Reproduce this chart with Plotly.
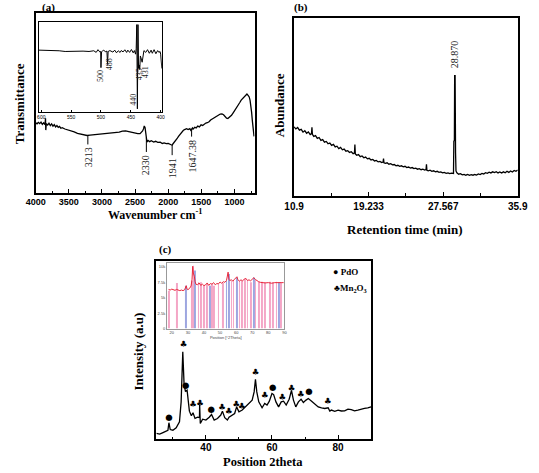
import numpy as np
import plotly.graph_objects as go

# ---------------- Panel (a): FTIR spectrum ----------------
wn_a = [4000, 3980, 3960, 3940, 3920, 3900, 3880, 3860, 3852, 3848, 3840, 3820, 3800, 3780, 3760,
        3740, 3720, 3700, 3680, 3660, 3640, 3620, 3600, 3560, 3516, 3470, 3419, 3370, 3322, 3270,
        3225, 3180, 3128, 3080, 3031, 2980, 2934, 2880, 2837, 2790, 2740, 2692, 2643, 2595, 2545,
        2498, 2460, 2425, 2400, 2387, 2372, 2362, 2350, 2340, 2329, 2322, 2315, 2304, 2280, 2256,
        2220, 2190, 2159, 2120, 2090, 2062, 2030, 2000, 1965, 1950, 1941, 1930, 1917, 1890, 1868,
        1845, 1820, 1795, 1771, 1745, 1723, 1700, 1674, 1660, 1647, 1635, 1626, 1600, 1578, 1555,
        1529, 1505, 1481, 1455, 1432, 1410, 1384, 1360, 1335, 1310, 1287, 1260, 1238, 1215, 1190,
        1165, 1142, 1120, 1100, 1080, 1060, 1045, 1020, 996, 970, 948, 920, 899, 875, 851,
        830, 812, 795, 778, 765, 754, 742, 730, 720, 712, 705]
T_a = [39.0, 38.5, 39.3, 38.6, 39.4, 38.2, 39.0, 38.0, 41.5, 35.0, 38.6, 37.8, 38.8, 37.5, 38.4,
       37.2, 38.0, 36.8, 37.5, 36.5, 37.0, 36.0, 36.3, 35.6, 35.2, 34.4, 34.0, 33.2, 32.8, 32.3,
       32.0, 32.2, 32.4, 32.3, 32.6, 32.8, 32.9, 33.1, 33.2, 33.6, 33.9, 34.4, 34.6, 34.2, 33.6,
       33.2, 33.0, 33.0, 33.8, 34.5, 35.8, 37.3, 36.5, 34.5, 30.5, 28.4, 29.0, 29.3, 28.6, 29.1,
       28.4, 28.8, 28.2, 28.3, 27.6, 27.9, 27.5, 27.6, 27.0, 26.8, 26.6, 27.3, 27.8, 29.0, 30.2,
       31.5, 32.8, 33.8, 34.9, 35.4, 35.8, 35.3, 35.8, 34.9, 35.4, 36.2, 35.5, 36.6, 36.2, 37.2,
       36.8, 37.9, 37.6, 38.6, 38.9, 39.1, 39.6, 40.6, 41.1, 41.5, 42.0, 42.8, 43.4, 43.9, 44.0,
       43.5, 42.4, 41.6, 41.4, 42.0, 42.8, 43.2, 44.6, 45.8, 47.2, 48.8, 50.3, 51.6, 52.6, 53.6,
       54.3, 55.0, 54.3, 53.4, 51.5, 49.0, 45.0, 40.0, 36.0, 32.5, 31.5]
ir_peaks = [3213, 2330, 1941, 1647.38]
ir_peak_labels = ["3213", "2330", "1941", "1647.38"]

# inset of (a)
wn_ins = [604, 590, 580, 579, 570, 560, 550, 540, 530, 520, 512, 508, 505, 502, 500.5, 500, 499, 496,
          492, 490, 489, 488, 485, 480, 477, 474, 471, 468, 466, 463, 460, 457, 455, 452, 449, 446,
          444, 442, 441, 440, 439, 438, 437, 436, 435, 434, 433, 431, 430, 428, 425, 422, 419, 416,
          414, 411, 408, 405, 403, 401, 400, 399, 398]
T_ins = [68.5, 68.5, 68.5, 67.8, 67.8, 67.0, 67.4, 67.0, 67.4, 67.0, 67.8, 66.0, 69.0, 66.5, 67.0, 49.0, 66.5, 68.5,
         66.7, 67.5, 52.5, 67.0, 68.0, 66.3, 68.5, 65.5, 67.8, 65.9, 68.1, 66.5, 68.9, 65.9, 68.5, 66.0, 69.2, 65.5,
         68.0, 64.0, 70.0, 97.0, 3.0, 97.0, 48.0, 52.0, 47.0, 62.0, 60.0, 55.0, 62.0, 68.0, 66.0, 69.0, 65.0, 68.5,
         65.0, 69.0, 64.5, 68.0, 66.0, 67.0, 64.0, 52.0, 48.0]
ins_peaks = [500, 488, 440, 435, 431]
ins_labels = ["500", "488", "440", "435", "431"]

# ---------------- Panel (b): GC chromatogram ----------------
t_b = [10.9, 11.1, 11.3, 11.5, 11.7, 11.9, 12.1, 12.3, 12.5, 12.7, 12.85, 12.9, 12.95, 13.1, 13.3,
       13.5, 13.7, 13.9, 14.1, 14.3, 14.5, 14.7, 14.9, 15.1, 15.3, 15.5, 15.7, 15.9, 16.1, 16.3,
       16.5, 16.7, 16.9, 17.1, 17.3, 17.5, 17.65, 17.7, 17.75, 17.9, 18.1, 18.3, 18.5, 18.7, 18.9,
       19.1, 19.3, 19.5, 19.7, 19.9, 20.1, 20.3, 20.5, 20.7, 20.85, 20.9, 20.95, 21.1, 21.3, 21.5,
       21.7, 21.9, 22.1, 22.3, 22.5, 22.7, 22.9, 23.1, 23.3, 23.5, 23.7, 23.9, 24.1, 24.3, 24.5,
       24.7, 24.9, 25.1, 25.3, 25.5, 25.65, 25.7, 25.75, 25.9, 26.1, 26.3, 26.5, 26.7, 26.9, 27.1,
       27.3, 27.5, 27.7, 27.9, 28.1, 28.3, 28.5, 28.65, 28.72, 28.76, 28.82, 28.85, 28.9, 28.95, 29.0,
       29.1, 29.3, 29.5, 29.7, 29.9, 30.1, 30.3, 30.5, 30.7, 30.9, 31.1, 31.3, 31.5, 31.7, 31.9,
       32.1, 32.3, 32.5, 32.7, 32.9, 33.1, 33.3, 33.5, 33.7, 33.9, 34.1, 34.3, 34.5, 34.7, 34.9,
       35.1, 35.3, 35.5, 35.7, 35.9]
A_b = [38.8, 37.6, 38.4, 36.9, 37.4, 35.8, 36.6, 35.2, 35.9, 34.4, 35.0, 38.5, 34.6, 33.4, 33.9,
       32.3, 32.8, 31.2, 31.6, 30.2, 30.6, 29.3, 29.7, 28.4, 28.9, 27.5, 27.9, 26.6, 27.2, 25.9,
       26.3, 25.1, 25.4, 24.4, 24.8, 23.7, 24.1, 28.9, 23.5, 22.8, 23.2, 22.0, 22.4, 21.4, 21.8,
       20.8, 21.1, 20.2, 20.5, 19.6, 19.9, 19.1, 19.4, 18.7, 19.0, 21.0, 18.6, 18.3, 18.6, 17.8,
       18.1, 17.4, 17.6, 16.9, 17.2, 16.6, 16.9, 16.3, 16.6, 15.9, 16.2, 15.6, 15.9, 15.3, 15.6,
       15.0, 15.3, 14.7, 15.0, 14.5, 14.8, 17.7, 14.4, 14.1, 14.4, 13.8, 14.1, 13.5, 13.8, 13.2,
       13.5, 12.9, 13.2, 12.7, 12.9, 12.5, 12.8, 12.4, 12.6, 30.8, 31.0, 67.5, 67.5, 24.3, 14.0,
       13.0, 12.2, 12.5, 11.8, 12.1, 11.6, 12.0, 11.5, 11.9, 11.6, 12.0, 11.7, 12.3, 12.0, 12.6,
       12.3, 13.0, 12.7, 13.3, 12.9, 13.5, 13.1, 13.6, 12.9, 13.4, 12.8, 13.5, 13.0, 13.8, 13.2,
       14.0, 13.4, 14.3, 13.8, 14.6]
gc_peak_label = "28.870"
gc_ticks = [10.9, 19.233, 27.567, 35.9]

# ---------------- Panel (c): XRD ----------------
theta_c = [25, 26, 27, 28, 28.5, 28.8, 29.2, 30, 31, 32, 32.5, 33.0, 33.4, 33.8, 34.3, 35, 35.6, 36.1,
           36.7, 37.5, 38.05, 38.1, 38.3, 39, 40, 41, 41.7, 42.5, 43.5, 44.5, 45, 45.7, 46.5, 47, 48,
           48.7, 49.3, 50, 51, 52, 53, 54, 54.6, 55.0, 55.4, 56, 57, 57.8, 58.5, 59.2, 60, 60.5, 61.2,
           62, 62.8, 63.5, 64.3, 65.2, 65.9, 66.5, 67.2, 68, 68.8, 69.5, 70.3, 71, 72, 73, 74, 75,
           76, 77, 77.5, 78, 79, 80, 81, 82, 83, 84, 85, 86, 87, 88, 89, 90]
I_c = [3.2, 2.8, 3.7, 4.4, 5.0, 9.2, 5.4, 5.0, 6.4, 9.7, 20.9, 49.0, 30.3, 26.9, 27.5, 15.7, 13.1, 14.8,
       11.6, 12.3, 12.0, 19.4, 8.8, 11.2, 10.7, 12.3, 13.8, 10.7, 11.6, 13.5, 15.7, 12.0, 10.7, 12.3, 13.5,
       14.4, 18.1, 15.3, 16.3, 18.1, 20.0, 21.9, 26.5, 33.6, 26.5, 20.9, 17.6, 20.0, 19.1, 21.3, 25.6, 25.0, 20.9,
       18.1, 20.9, 21.3, 19.1, 22.4, 27.3, 21.9, 18.1, 20.9, 22.4, 20.6, 21.9, 22.8, 21.3, 19.4, 18.1, 17.6,
       17.2, 17.6, 15.7, 16.3, 15.6, 16.3, 15.8, 15.9, 16.8, 16.6, 15.9, 16.3, 16.9, 17.2, 17.6, 18.1]
pdo_x = [28.8, 33.9, 41.6, 60.2, 71.2]
pdo_y = [12.1, 29.9, 16.6, 28.8, 26.5]
mn_x = [33.2, 36.1, 38.2, 44.9, 46.9, 49.2, 50.9, 55.0, 57.8, 63.1, 65.9, 68.7, 76.9]
mn_y = [52.7, 19.4, 19.8, 17.6, 15.3, 19.1, 17.9, 37.2, 24.3, 23.2, 28.0, 24.7, 20.9]

# inset of (c)
theta_ins = [18, 19, 20, 21, 22, 23, 24, 25, 26, 27, 28, 29, 29.5, 30, 31, 32, 32.6, 33, 33.4, 34, 34.5,
             35, 36, 37, 38, 39, 40, 41, 42, 43, 44, 45, 46, 47, 48, 49, 50, 51, 52, 53, 54, 54.6, 55,
             55.5, 56, 57, 58, 59, 60, 60.5, 61, 62, 63, 64, 65, 66, 67, 68, 69, 70, 71, 72, 73, 74,
             75, 76, 77, 78, 80, 82, 84, 86, 88, 89.5]
counts_ins = [6350, 6250, 6400, 6300, 6200, 6350, 6250, 6150, 6250, 6150, 6300, 6950, 6400, 6300, 6500,
              6900, 8000, 10100, 9000, 8500, 7600, 7200, 7100, 7400, 7000, 7200, 6950, 7100, 7400, 7000,
              7300, 7200, 7450, 7100, 7300, 7250, 7550, 7350, 7600, 7500, 7800, 8400, 9150, 8000, 7800,
              7900, 7700, 8000, 8200, 8400, 7950, 7700, 7900, 7750, 8000, 8150, 7800, 7900, 7750, 8000,
              8250, 7950, 7700, 7600, 7500, 7450, 7500, 7400, 7450, 7350, 7450, 7400, 7450, 7450]
ref_pink_x = [18.4, 23, 32.4, 33.4, 36.6, 38, 40, 42, 45, 46, 49, 52, 57, 58.4, 62, 63.6, 65.6, 67,
              69, 72, 74, 76, 78, 81, 83, 85, 88]
ref_pink_h = [6140, 7390, 7770, 10200, 7500, 7500, 6960, 7230, 7230, 6960, 7230, 7390, 7770, 7770,
              7770, 7770, 8040, 7770, 7500, 7930, 7610, 7610, 7500, 7610, 7500, 7610, 7500]
ref_blue_x = [29, 34.4, 43.6, 54, 55.4, 60.6, 71, 86.4]
ref_blue_h = [6960, 9400, 6960, 7770, 8860, 8300, 8300, 7500]

# ---------------- Figure ----------------
W, H = 539, 473
def px(x):
    return x / W
def py(y):
    return 1 - y / H

fig = go.Figure()
LINE = dict(color="black", width=1.3)

fig.add_trace(go.Scatter(x=wn_a, y=T_a, mode="lines", line=LINE, xaxis="x", yaxis="y", showlegend=False))
fig.add_trace(go.Scatter(x=wn_ins, y=T_ins, mode="lines", line=dict(color="black", width=1), xaxis="x2", yaxis="y2", showlegend=False))
fig.add_trace(go.Scatter(x=t_b, y=A_b, mode="lines", line=LINE, xaxis="x3", yaxis="y3", showlegend=False))
fig.add_trace(go.Scatter(x=theta_c, y=I_c, mode="lines", line=LINE, xaxis="x4", yaxis="y4", showlegend=False))
fig.add_trace(go.Scatter(x=pdo_x, y=pdo_y, mode="text", text=["●"] * len(pdo_x),
                         textfont=dict(size=8.5, color="black", family="DejaVu Sans"),
                         xaxis="x4", yaxis="y4", showlegend=False))
fig.add_trace(go.Scatter(x=mn_x, y=mn_y, mode="text", text=["♣"] * len(mn_x),
                         textfont=dict(size=8.5, color="black", family="DejaVu Sans"),
                         xaxis="x4", yaxis="y4", showlegend=False))
fig.add_trace(go.Bar(x=ref_pink_x, y=ref_pink_h, width=0.45, marker=dict(color="#f4a6c6", line=dict(width=0)),
                     xaxis="x5", yaxis="y5", showlegend=False))
fig.add_trace(go.Bar(x=ref_blue_x, y=ref_blue_h, width=0.45, marker=dict(color="#9da6e0", line=dict(width=0)),
                     xaxis="x5", yaxis="y5", showlegend=False))
fig.add_trace(go.Scatter(x=theta_ins, y=counts_ins, mode="lines", line=dict(color="#e8283c", width=1),
                         xaxis="x5", yaxis="y5", showlegend=False))

TICKF = dict(family="Liberation Sans", size=9, color="black", weight="bold")
frame = dict(showline=True, linecolor="black", linewidth=1.5, mirror=True, showgrid=False, zeroline=False)

fig.update_layout(
    width=W, height=H, margin=dict(l=0, r=0, t=0, b=0),
    paper_bgcolor="white", plot_bgcolor="rgba(0,0,0,0)", barmode="overlay",
    xaxis=dict(domain=[px(26.7), px(254)], range=[4000, 697], anchor="y", dtick=500, tick0=0,
               ticks="inside", ticklen=4, tickcolor="black", tickfont=TICKF, ticklabelstandoff=-1,
               minor=dict(dtick=250, ticks="inside", ticklen=2, tickcolor="black"), **frame),
    yaxis=dict(domain=[py(194), py(13)], range=[0, 100], anchor="x", showticklabels=False, ticks="", **frame),
    xaxis2=dict(domain=[px(30), px(157.7)], range=[604, 398], anchor="y2", dtick=50, tick0=0,
                ticks="inside", ticklen=2, tickcolor="black",
                tickfont=dict(family="Liberation Sans", size=5, color="black"),
                showline=True, linecolor="black", linewidth=1, mirror=True, showgrid=False, zeroline=False),
    yaxis2=dict(domain=[py(112), py(22)], range=[0, 100], anchor="x2", showticklabels=False, ticks="",
                showline=True, linecolor="black", linewidth=1, mirror=True, showgrid=False, zeroline=False),
    xaxis3=dict(domain=[px(295), px(527.3)], range=[10.9, 35.9], anchor="y3", tickvals=gc_ticks,
                ticktext=[str(v) for v in gc_ticks], ticks="inside", ticklen=4, tickcolor="black",
                tickfont=dict(family="Liberation Sans", size=10, color="black", weight="bold"),
                minor=dict(tickvals=[15.067, 23.4, 31.733], ticks="inside", ticklen=3, tickcolor="black"), **frame),
    yaxis3=dict(domain=[py(196.7), py(18)], range=[0, 100], anchor="x3", showticklabels=False, ticks="", **frame),
    xaxis4=dict(domain=[px(152), px(375)], range=[25, 90], anchor="y4", dtick=20, tick0=0,
                ticks="inside", ticklen=4, tickcolor="black", ticklabelstandoff=-2,
                tickfont=dict(family="Liberation Sans", size=10, color="black", weight="bold"),
                minor=dict(dtick=10, ticks="inside", ticklen=2, tickcolor="black"), **frame),
    yaxis4=dict(domain=[py(441), py(262)], range=[0, 100], anchor="x4", showticklabels=False, ticks="", **frame),
    xaxis5=dict(domain=[px(163), px(285)], range=[17, 90], anchor="y5", dtick=10, tick0=0,
                ticks="", tickfont=dict(family="Liberation Sans", size=4, color="#444"),
                title=dict(text="Position [°2Theta]", font=dict(family="Liberation Sans", size=4, color="#444"), standoff=1),
                showline=True, linecolor="#999", linewidth=1, mirror=True, showgrid=False, zeroline=False),
    yaxis5=dict(domain=[py(330), py(264)], range=[0, 10650], anchor="x5", dtick=2500, tick0=0,
                ticks="", tickfont=dict(family="Liberation Sans", size=4, color="#444"),
                showline=True, linecolor="#999", linewidth=1, mirror=True, showgrid=False, zeroline=False),
)

ann = []
shapes = []
# panel letters
for txt, x, y in [("(a)", 40, 8), ("(b)", 302, 8), ("(c)", 162, 251)]:
    ann.append(dict(text="<b>%s</b>" % txt, x=px(x), y=py(y), xref="paper", yref="paper", showarrow=False,
                    xanchor="center", yanchor="middle",
                    font=dict(family="Liberation Serif", size=11, color="black")))
# axis titles
for txt, x, y, ang, sz in [("Transmittance", 10, 104, -90, 13), ("Wavenumber cm<sup>-1</sup>", 151, 215, 0, 12),
                           ("Abundance", 280, 106, -90, 13), ("Retention time (min)", 410, 230, 0, 13),
                           ("Intensity (a.u)", 133, 353, -90, 13), ("Position 2theta", 263, 464, 0, 12.5)]:
    ann.append(dict(text="<b>%s</b>" % txt, x=px(x), y=py(y), xref="paper", yref="paper", showarrow=False,
                    xanchor="center", yanchor="middle", textangle=ang,
                    font=dict(family="Liberation Serif", size=sz, color="black")))

# IR peak labels with leader lines
lead_len = [5, 8, 5.5, 4]
for wn, lab, L in zip(ir_peaks, ir_peak_labels, lead_len):
    top = float(np.interp(-wn, [-w for w in wn_a], T_a))
    shapes.append(dict(type="line", xref="x", yref="y", x0=wn, x1=wn, y0=top, y1=top - L,
                       line=dict(color="black", width=1)))
    ann.append(dict(text=lab, x=wn, y=top - L - 0.5, xref="x", yref="y", showarrow=False, textangle=-90,
                    xanchor="center", yanchor="top", font=dict(family="Liberation Serif", size=10, color="#222")))

# inset (a) labels (centre positions)
ins_cx = [500, 486, 445, 435.5, 426]
ins_cy = [39.7, 53, 13, 42, 44]
for lab, cx, cy in zip(ins_labels, ins_cx, ins_cy):
    ann.append(dict(text=lab, x=cx, y=cy, xref="x2", yref="y2", showarrow=False, textangle=-90,
                    xanchor="center", yanchor="middle",
                    font=dict(family="Liberation Serif", size=8, color="#222")))

# GC peak label
ann.append(dict(text=gc_peak_label, x=28.87, y=max(A_b) + 3, xref="x3", yref="y3", showarrow=False,
                textangle=-90, xanchor="center", yanchor="bottom",
                font=dict(family="Liberation Serif", size=10, color="#222")))

# legend of (c)
ann.append(dict(text="<b>● PdO</b>", x=px(333), y=py(273), xref="paper", yref="paper", showarrow=False,
                xanchor="left", yanchor="middle", font=dict(family="Liberation Serif", size=9, color="black")))
ann.append(dict(text="<b>♣Mn<sub>2</sub>O<sub>3</sub></b>", x=px(334), y=py(290), xref="paper", yref="paper",
                showarrow=False, xanchor="left", yanchor="middle",
                font=dict(family="Liberation Serif", size=9, color="black")))

fig.update_layout(annotations=ann, shapes=shapes)
fig.write_html("out.html", config={"displayModeBar": False},
               post_script="document.body.style.margin='0';")
